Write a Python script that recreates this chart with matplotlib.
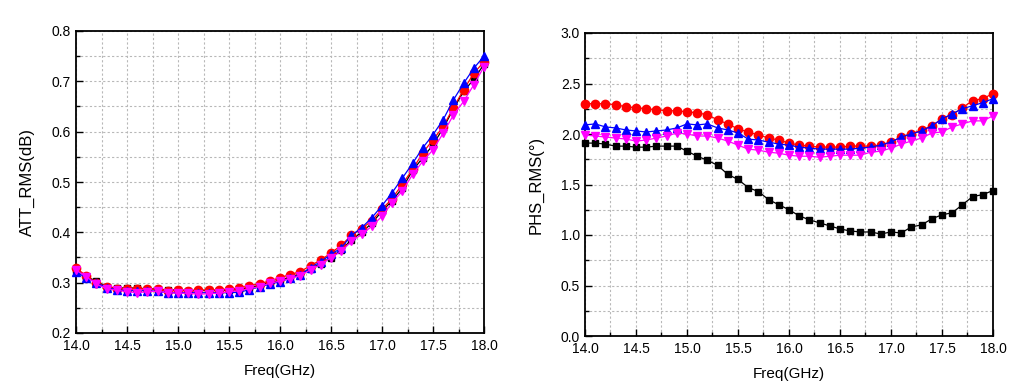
import numpy as np
import matplotlib
matplotlib.use("Agg")
import matplotlib.pyplot as plt
from matplotlib.ticker import MultipleLocator

plt.rcParams['font.family'] = ['Liberation Sans', 'DejaVu Sans']

freq = [round(14.0 + 0.1 * i, 1) for i in range(41)]

att_black = [0.326, 0.312, 0.303, 0.292, 0.289, 0.290, 0.289, 0.288, 0.287, 0.285, 0.286,
             0.284, 0.284, 0.285, 0.284, 0.285, 0.286, 0.290, 0.295, 0.300, 0.305,
             0.311, 0.318, 0.327, 0.338, 0.350, 0.365, 0.385, 0.400, 0.418,
             0.442, 0.463, 0.488, 0.523, 0.548, 0.574, 0.607, 0.645, 0.680, 0.704, 0.734]
att_red = [0.329, 0.314, 0.300, 0.292, 0.288, 0.287, 0.288, 0.288, 0.287, 0.284, 0.285,
           0.284, 0.286, 0.285, 0.286, 0.287, 0.289, 0.294, 0.298, 0.303, 0.310,
           0.316, 0.322, 0.334, 0.345, 0.359, 0.374, 0.394, 0.407, 0.423,
           0.446, 0.467, 0.496, 0.525, 0.558, 0.584, 0.610, 0.648, 0.683, 0.716, 0.739]
att_blue = [0.321, 0.310, 0.300, 0.290, 0.286, 0.284, 0.284, 0.284, 0.283, 0.280, 0.280,
            0.280, 0.280, 0.280, 0.280, 0.280, 0.281, 0.286, 0.292, 0.297, 0.302,
            0.309, 0.316, 0.330, 0.342, 0.356, 0.369, 0.394, 0.409, 0.429,
            0.453, 0.479, 0.508, 0.537, 0.568, 0.594, 0.624, 0.663, 0.696, 0.726, 0.750]
att_magenta = [0.325, 0.312, 0.297, 0.288, 0.285, 0.282, 0.280, 0.282, 0.283, 0.280, 0.279,
               0.279, 0.277, 0.278, 0.279, 0.282, 0.284, 0.288, 0.292, 0.299, 0.303,
               0.308, 0.314, 0.326, 0.336, 0.350, 0.362, 0.382, 0.396, 0.412,
               0.432, 0.459, 0.482, 0.515, 0.541, 0.564, 0.597, 0.633, 0.660, 0.693, 0.729]

phs_black = [1.91, 1.91, 1.90, 1.88, 1.88, 1.87, 1.87, 1.88, 1.88, 1.88, 1.83,
             1.78, 1.74, 1.69, 1.60, 1.55, 1.47, 1.43, 1.35, 1.30, 1.25,
             1.19, 1.15, 1.12, 1.09, 1.06, 1.04, 1.03, 1.03, 1.01, 1.03,
             1.02, 1.08, 1.10, 1.16, 1.20, 1.22, 1.30, 1.38, 1.40, 1.44]
phs_red = [2.30, 2.30, 2.30, 2.29, 2.27, 2.26, 2.25, 2.24, 2.23, 2.23, 2.22,
           2.21, 2.19, 2.14, 2.10, 2.05, 2.02, 1.99, 1.96, 1.94, 1.91,
           1.89, 1.88, 1.87, 1.87, 1.87, 1.88, 1.88, 1.88, 1.89, 1.92,
           1.97, 2.00, 2.04, 2.08, 2.15, 2.19, 2.26, 2.33, 2.35, 2.40]
phs_blue = [2.09, 2.10, 2.07, 2.06, 2.04, 2.03, 2.02, 2.03, 2.04, 2.06, 2.10,
            2.09, 2.10, 2.06, 2.04, 2.01, 1.95, 1.94, 1.92, 1.90, 1.89,
            1.87, 1.86, 1.85, 1.85, 1.85, 1.85, 1.86, 1.87, 1.89, 1.92,
            1.97, 2.00, 2.03, 2.08, 2.15, 2.20, 2.25, 2.28, 2.31, 2.35]
phs_magenta = [1.99, 1.98, 1.97, 1.96, 1.95, 1.93, 1.94, 1.96, 1.98, 2.01, 2.00,
               1.98, 1.98, 1.96, 1.93, 1.89, 1.85, 1.84, 1.82, 1.81, 1.79,
               1.78, 1.78, 1.77, 1.78, 1.79, 1.79, 1.79, 1.82, 1.83, 1.86,
               1.90, 1.93, 1.96, 2.01, 2.02, 2.07, 2.10, 2.13, 2.13, 2.18]

styles = [('#000000', 's', 5.0), ('#ff0000', 'o', 6.0), ('#0000ff', '^', 6.0), ('#ff00ff', 'v', 6.0)]

fig = plt.figure(figsize=(10.2, 3.91), dpi=100)
ax1 = fig.add_axes([76 / 1020, 58 / 391, 408 / 1020, 302 / 391])
ax2 = fig.add_axes([585 / 1020, 55 / 391, 408 / 1020, 303 / 391])


def style_axes(ax, ylim, ymaj, ymin, ylabel, yfmt):
    ax.set_xlim(14.0, 18.0)
    ax.set_ylim(*ylim)
    ax.xaxis.set_major_locator(MultipleLocator(0.5))
    ax.xaxis.set_minor_locator(MultipleLocator(0.25))
    ax.yaxis.set_major_locator(MultipleLocator(ymaj))
    ax.yaxis.set_minor_locator(MultipleLocator(ymin))
    ax.xaxis.set_major_formatter(matplotlib.ticker.FormatStrFormatter('%.1f'))
    ax.yaxis.set_major_formatter(matplotlib.ticker.FormatStrFormatter(yfmt))
    ax.grid(True, which='both', color='#b8b8b8', linestyle=(0, (2, 2)), linewidth=0.8)
    ax.set_axisbelow(True)
    ax.tick_params(which='both', direction='in', top=False, right=False, labelsize=10, colors='#000000')
    ax.tick_params(which='major', length=5, width=1)
    ax.tick_params(which='minor', length=3, width=1)
    ax.tick_params(axis='x', pad=4)
    for s in ax.spines.values():
        s.set_linewidth(1.3)
    ax.set_xlabel('Freq(GHz)', fontsize=11, labelpad=8)
    ax.set_ylabel(ylabel, fontsize=12, labelpad=12)


for series, (c, m, ms) in zip([att_black, att_red, att_blue, att_magenta], styles):
    ax1.plot(freq, series, color=c, marker=m, markersize=ms, linewidth=0.9, clip_on=False, zorder=3)
for series, (c, m, ms) in zip([phs_black, phs_red, phs_blue, phs_magenta], styles):
    ax2.plot(freq, series, color=c, marker=m, markersize=ms, linewidth=0.9, clip_on=False, zorder=3)

style_axes(ax1, (0.2, 0.8), 0.1, 0.05, 'ATT_RMS(dB)', '%.1f')
style_axes(ax2, (0.0, 3.0), 0.5, 0.25, 'PHS_RMS(°)', '%.1f')

fig.savefig('out.png', dpi=100)
